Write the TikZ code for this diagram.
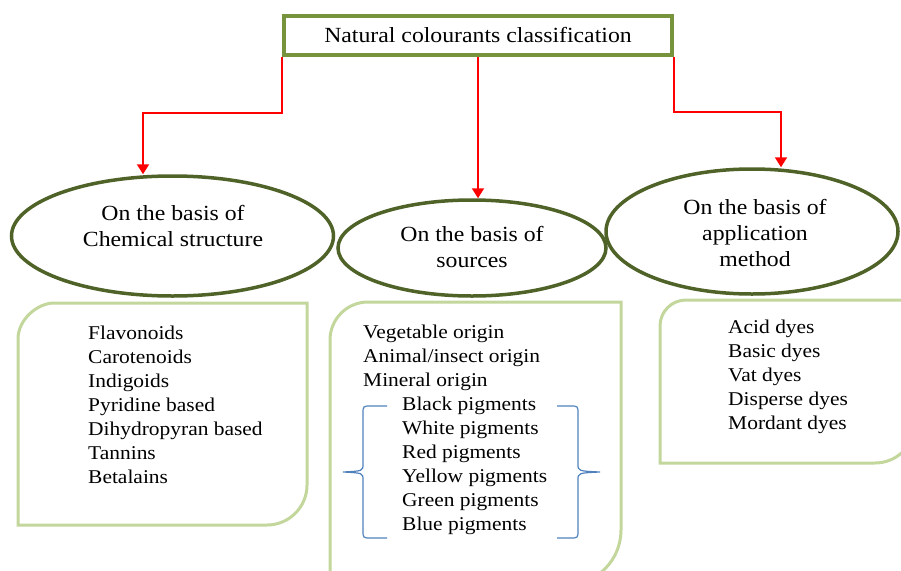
\documentclass[tikz,border=0pt]{standalone}
\usepackage{fontspec}
\setmainfont{Liberation Serif}[FakeStretch=1.1]
\usetikzlibrary{arrows.meta,shapes.geometric}
\definecolor{titlegreen}{HTML}{77933C}
\definecolor{ellgreen}{HTML}{4F6228}
\definecolor{boxgreen}{HTML}{C3D69B}
\definecolor{bracecol}{HTML}{4F81BD}
\begin{document}
\begin{tikzpicture}[x=1pt,y=-1pt,
 titlebox/.style={draw=titlegreen,line width=4pt,minimum width=388pt,minimum height=39pt,inner sep=0pt,font=\fontsize{21.6}{26}\selectfont},
 ell/.style={ellipse,draw=ellgreen,line width=3.5pt,inner sep=0pt},
 etext/.style={anchor=base,inner sep=0pt,font=\fontsize{21.6}{26}\selectfont},
 ltext/.style={anchor=base west,inner sep=0pt,font=\fontsize{19.5}{24}\selectfont},
 listbox/.style={draw=boxgreen,line width=3pt},
 arr/.style={draw=red,line width=2pt,-{Triangle[width=12pt,length=10pt]}},
 brace/.style={draw=bracecol,line width=1.2pt}]
\useasboundingbox (0,0) rectangle (901,570);

% title
\node[titlebox] (t) at (478,35.5) {Natural colourants classification\hspace{11pt}};

% ellipses
\node[ell,minimum width=322pt,minimum height=120pt] (chem) at (172.5,236) {};
\node[ell,minimum width=268pt,minimum height=96pt] (src) at (472,248) {};
\node[ell,minimum width=292pt,minimum height=125pt] (app) at (752,231.5) {};

\node[etext] (c1) at (173,220) {On the basis of};
\node[etext] (c2) at (173,246) {Chemical structure};
\node[etext] (s1) at (472,241) {On the basis of};
\node[etext] (s2) at (472,267) {sources};
\node[etext] (a1) at (755,214) {On the basis of};
\node[etext] (a2) at (755,240) {application};
\node[etext] (a3) at (755,266) {method};

% connectors
\coordinate (lk) at (143,113);
\coordinate (rk) at (781,112);
\draw[arr] (t.south west) |- (lk) -- (lk |- chem.north);
\draw[arr] (t.south) -- (t.south |- src.north);
\draw[arr] (t.south east) |- (rk) -- (rk |- app.north);

% list boxes
\draw[listbox] (18,525) -- (18,339) .. controls (18,319.1) and (37.9,303) .. (54,303) -- (307,303) -- (307,485) .. controls (307,507.1) and (289.1,525) .. (267,525) -- cycle;
\draw[listbox] (330,590) -- (330,340) .. controls (330,319) and (347,302) .. (368,302) -- (621,302) -- (621,530) .. controls (621,560.4) and (596.4,585) .. (566,585) -- (330,585);
\draw[listbox] (660,463) -- (660,326) .. controls (660,311.6) and (671.6,300) .. (686,300) -- (915,300) -- (915,423) .. controls (915,445.1) and (897.1,463) .. (875,463) -- cycle;

% left list
\foreach \txt [count=\i from 0] in {Flavonoids,Carotenoids,Indigoids,Pyridine based,Dihydropyran based,Tannins,Betalains}
  \node[ltext] (l\i) at (88,339+24*\i) {\txt};

% middle list
\foreach \txt [count=\i from 0] in {Vegetable origin,Animal/insect origin,Mineral origin}
  \node[ltext] (m\i) at (363,338+24*\i) {\txt};
\foreach \txt [count=\i from 0] in {Black pigments,White pigments,Red pigments,Yellow pigments,Green pigments,Blue pigments}
  \node[ltext] (p\i) at (402,410+24*\i) {\txt};

% right list
\foreach \txt [count=\i from 0] in {Acid dyes,Basic dyes,Vat dyes,Disperse dyes,Mordant dyes}
  \node[ltext] (r\i) at (728,333+24*\i) {\txt};

% braces
\draw[brace] (387,406) -- (371,406) .. controls (363,406) .. (363,414) -- (363,464) .. controls (363,471) .. (343,472) .. controls (363,473) .. (363,480) -- (363,530) .. controls (363,538) .. (371,538) -- (387,538);
\draw[brace] (557,406) -- (570,406) .. controls (578,406) .. (578,414) -- (578,464) .. controls (578,471) .. (600,472) .. controls (578,473) .. (578,480) -- (578,530) .. controls (578,538) .. (570,538) -- (557,538);
\end{tikzpicture}
\end{document}
